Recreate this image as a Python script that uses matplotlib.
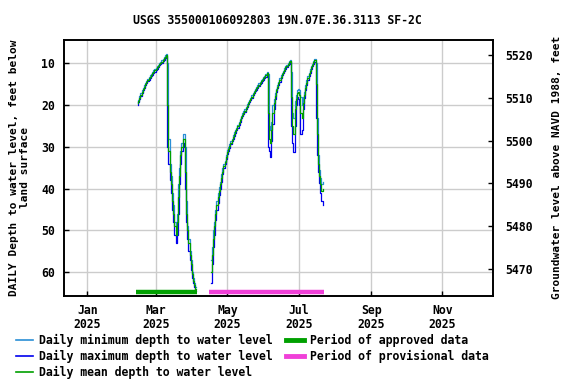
import matplotlib
matplotlib.use("Agg")
import matplotlib.pyplot as plt
import matplotlib.dates as mdates
import numpy as np
import pandas as pd

# ---------------- data ----------------
title = "USGS 355000106092803 19N.07E.36.3113 SF-2C"

seg1_start = "2025-02-13"
mean1 = [19.6, 19.0, 18.2, 17.5, 16.8, 16.2, 15.6, 15.0, 14.5, 14.0, 13.6, 13.2, 12.8,
         12.4, 12.0, 11.7, 11.4, 11.0, 10.6, 10.2, 9.9, 9.6, 9.2, 8.8, 8.4, 8.0,
         20.0, 31.0, 36.0, 39.0, 43.0, 46.0, 49.0, 51.0, 48.0, 42.0, 37.0, 32.0, 30.0,
         28.0, 28.0, 36.0, 46.0, 50.0, 53.0, 56.0, 58.0, 60.5, 62.0, 63.0, 64.0]
min1 = [19.3, 18.7, 17.9, 17.2, 16.5, 15.9, 15.3, 14.7, 14.2, 13.7, 13.3, 12.9, 12.5,
        12.1, 11.7, 11.4, 11.1, 10.7, 10.3, 9.9, 9.6, 9.3, 8.9, 8.5, 8.1, 7.8,
        10.0, 28.0, 34.0, 37.0, 41.0, 44.0, 48.0, 49.0, 46.0, 39.0, 35.0, 31.0, 29.0,
        27.0, 27.0, 30.0, 43.0, 49.0, 52.0, 55.0, 57.0, 60.0, 61.5, 62.5, 63.5]
max1 = [19.9, 19.3, 18.5, 17.8, 17.1, 16.5, 15.9, 15.3, 14.8, 14.3, 13.9, 13.5, 13.1,
        12.7, 12.3, 12.0, 11.7, 11.3, 10.9, 10.5, 10.2, 9.9, 9.5, 9.1, 8.7, 8.3,
        30.0, 34.0, 38.0, 41.0, 45.0, 48.0, 51.0, 53.0, 51.0, 46.0, 39.0, 34.0, 31.0,
        29.0, 30.0, 40.0, 48.0, 52.0, 55.0, 57.0, 59.5, 61.5, 62.5, 63.5, 64.5]

seg2_start = "2025-04-17"
mean2 = [60, 56, 52, 49, 46, 44, 42, 40.5, 39, 37.5,
         36, 34.5, 33.7, 32.5, 31.3, 30.5, 29.8, 29, 28.3, 27.6,
         26.9, 26.3, 25.7, 25.1, 24.4, 23.6, 22.9, 22.3, 21.8, 21.3,
         20.7, 20.1, 19.5, 19.0, 18.5, 18.0, 17.4, 16.9, 16.4, 16.0,
         15.6, 15.1, 14.7, 14.3, 14.0, 13.6, 13.3, 12.9, 12.3,
         22, 28, 29, 26, 22, 19.5, 17.8,
         16.5, 15.6, 14.8, 14.0, 13.2, 12.6, 12.1, 11.5, 11.0, 10.6, 10.2, 9.8, 9.4,
         18, 25, 27, 21, 18.5, 17, 16.8, 17.5, 22, 23, 19.5,
         17.5, 15.8, 14.6, 13.5, 12.6, 11.8, 11.0, 10.4, 9.8, 9.3,
         15, 27, 34, 37, 39, 40.5, 40]
min2 = [57, 54, 50, 48, 45, 43, 41, 39.5, 38.5, 36.5,
        35, 34, 33.3, 32, 30.8, 30, 29.4, 28.6, 28, 27.2,
        26.5, 26, 25.4, 24.8, 24.1, 23.3, 22.6, 22, 21.5, 21,
        20.4, 19.8, 19.2, 18.7, 18.2, 17.7, 17.1, 16.6, 16.1, 15.7,
        15.3, 14.8, 14.4, 14.0, 13.7, 13.3, 13.0, 12.6, 12.0,
        12.5, 25, 26, 24, 20, 18.5, 17.2,
        16.1, 15.2, 14.4, 13.6, 12.8, 12.3, 11.8, 11.2, 10.7, 10.3, 9.9, 9.5, 9.1,
        12, 22, 23, 19, 17.5, 16.3, 16.2, 16.5, 18, 20, 18,
        16.8, 15.2, 14.1, 13, 12.2, 11.4, 10.7, 10.1, 9.5, 9.0,
        10, 23, 32, 35.5, 37.5, 39, 38.5]
max2 = [62.5, 58, 54, 51, 47.5, 45, 43.5, 41.5, 40, 38.5,
        36.5, 35, 34.2, 33, 31.8, 31, 30.2, 29.4, 28.7, 28,
        27.3, 26.7, 26, 25.4, 24.8, 24, 23.2, 22.6, 22.1, 21.6,
        21, 20.4, 19.8, 19.3, 18.8, 18.3, 17.7, 17.2, 16.7, 16.3,
        15.9, 15.4, 15.0, 14.6, 14.3, 13.9, 13.6, 13.2, 12.6,
        30, 31, 32.5, 28.5, 24.5, 21, 18.5,
        16.9, 16.0, 15.2, 14.4, 13.6, 12.9, 12.4, 11.8, 11.3, 10.9, 10.5, 10.1, 9.7,
        25, 29, 31.3, 25, 20, 18, 18.5, 20, 27, 26, 21,
        18.2, 16.4, 15.1, 14, 13, 12.2, 11.4, 10.7, 10.1, 9.6,
        23, 32, 36, 38.6, 41, 43, 44]

approved_period = ("2025-02-12", "2025-04-05")
provisional_period = ("2025-04-15", "2025-07-23")
period_depth = 64.7

xlim = ("2024-12-12", "2025-12-14")
left_ylim = (65.7, 4.3)
right_ylim = (5463.7, 5523.6)
left_ticks = [10, 20, 30, 40, 50, 60]
right_ticks = [5470, 5480, 5490, 5500, 5510, 5520]
xtick_dates = ["2025-01-01", "2025-03-01", "2025-05-01", "2025-07-01", "2025-09-01", "2025-11-01"]
xtick_labels = ["Jan\n2025", "Mar\n2025", "May\n2025", "Jul\n2025", "Sep\n2025", "Nov\n2025"]

left_label = "DAILY Depth to water level, feet below\nland surface"
right_label = "Groundwater level above NAVD 1988, feet"
legend_labels = ["Daily minimum depth to water level",
                 "Daily maximum depth to water level",
                 "Daily mean depth to water level",
                 "Period of approved data",
                 "Period of provisional data"]

c_min = "#2a8fd6"
c_max = "#0000ee"
c_mean = "#00a000"
c_appr = "#00a000"
c_prov = "#f040d8"

# ---------------- plot ----------------
plt.rcParams['font.family'] = ['DejaVu Sans Mono']
plt.rcParams['font.weight'] = 'bold'
FS = 8.3

fig = plt.figure(figsize=(5.76, 3.84), dpi=100)
ax = fig.add_axes([64/576, 1-296/384, (492.5-64)/576, (296-39.5)/384])

d1 = pd.date_range(seg1_start, periods=len(mean1), freq="D")
d2 = pd.date_range(seg2_start, periods=len(mean2), freq="D")

lw = 0.9
for d, mn, mx, me in [(d1, min1, max1, mean1), (d2, min2, max2, mean2)]:
    ax.plot(d, mn, color=c_min, lw=lw, drawstyle="steps-mid")
    ax.plot(d, mx, color=c_max, lw=lw, drawstyle="steps-mid")
    ax.plot(d, me, color=c_mean, lw=lw, drawstyle="steps-mid")

ax.plot(pd.to_datetime(list(approved_period)), [period_depth]*2,
        color=c_appr, lw=3.2, solid_capstyle="butt")
ax.plot(pd.to_datetime(list(provisional_period)), [period_depth]*2,
        color=c_prov, lw=3.2, solid_capstyle="butt")

ax.set_xlim(pd.to_datetime(xlim[0]), pd.to_datetime(xlim[1]))
ax.set_ylim(*left_ylim)
ax.set_yticks(left_ticks)
ax.set_xticks(pd.to_datetime(xtick_dates))
ax.set_xticklabels(xtick_labels, linespacing=1.1)
ax.grid(True, color="#cccccc", lw=1.0)
ax.set_axisbelow(True)
ax.tick_params(direction="in", length=3.5, width=1, labelsize=FS, colors="black")
ax.tick_params(axis="x", pad=5.5)
ax.tick_params(axis="y", pad=6.5)
for s in ax.spines.values():
    s.set_linewidth(1.2)

ax2 = ax.twinx()
ax2.set_ylim(*right_ylim)
ax2.set_yticks(right_ticks)
ax2.tick_params(direction="in", length=3.5, width=1, labelsize=FS, pad=9.5)
for s in ax2.spines.values():
    s.set_linewidth(1.2)

fig.text(277/576, 1-20/384, title, ha="center", va="center", fontsize=FS, fontweight="bold")
fig.text(19.5/576, 1-167.7/384, left_label, rotation=90, ha="center", va="center",
         fontsize=8.0, fontweight="bold", multialignment="center", linespacing=1.2)
fig.text(557/576, 1-167.7/384, right_label, rotation=90, ha="center", va="center",
         fontsize=8.0, fontweight="bold")

handles = [plt.Line2D([], [], color=c_min, lw=1.2),
           plt.Line2D([], [], color=c_max, lw=1.2),
           plt.Line2D([], [], color=c_mean, lw=1.2),
           plt.Line2D([], [], color=c_appr, lw=3.5),
           plt.Line2D([], [], color=c_prov, lw=3.5)]
leg = fig.legend(handles, legend_labels, ncol=2, loc="upper left",
                 bbox_to_anchor=(15.5/576, 1-333.5/384), frameon=False,
                 prop={"size": FS, "weight": "bold"}, borderpad=0, borderaxespad=0,
                 handlelength=1.56, handletextpad=0.5, columnspacing=1.15,
                 labelspacing=0.25)

fig.savefig("out.png", dpi=100)
